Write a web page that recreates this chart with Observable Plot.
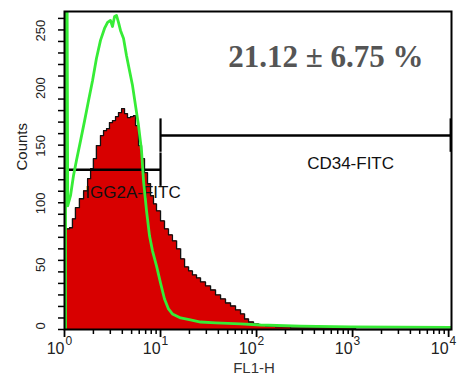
<!DOCTYPE html>
<html>
<head>
<meta charset="utf-8">
<script src="https://cdn.jsdelivr.net/npm/d3@7"></script>
<script src="https://cdn.jsdelivr.net/npm/@observablehq/plot@0.6"></script>
<style>
  html, body { margin: 0; padding: 0; background: #fff; }
</style>
</head>
<body>
<div id="chart"></div>
<script>
// CD34-FITC sample histogram (red fill), FL1-H channel vs counts
const redFL1 = [1.04, 1.05, 1.13, 1.21, 1.30, 1.43, 1.58, 1.74, 1.87, 2.00, 2.15, 2.37, 2.55, 2.74, 2.94, 3.16, 3.40, 3.65, 3.93, 4.22, 4.53, 4.87, 5.23, 5.49, 5.90, 6.34, 6.81, 7.32, 7.87, 8.45, 9.08, 10.0, 11.0, 12.1, 13.3, 14.7, 16.2, 17.8, 19.6, 21.5, 23.7, 26.1, 29.4, 33.2, 37.4, 42.2, 47.5, 53.6, 60.4, 68.1, 75.0, 82.5, 93.0, 105, 124, 158, 226, 464, 953, 1075, 10500];
const redCounts = [87, 87.4, 88.3, 96.1, 105.7, 113.5, 120.4, 130.9, 139.6, 148.3, 159.6, 168.3, 172.6, 174.3, 179.6, 181.3, 184.8, 188.3, 191.7, 187.4, 183.9, 184.8, 185.7, 177.0, 159.6, 148.3, 136.1, 126.5, 116.1, 109.1, 103.0, 94.3, 87.4, 82.2, 77.0, 70.0, 61.3, 54.3, 50.9, 47.4, 44.8, 41.3, 37.8, 34.3, 30.0, 26.5, 23.0, 20.4, 17.0, 13.5, 9.1, 6.5, 4.8, 3.9, 3.0, 2.2, 1.3, 1.3, 1.0, 0, 0];

// IgG2a-FITC isotype control histogram (green line)
const greenFL1 = [1.025, 1.025, 1.055, 1.08, 1.155, 1.24, 1.33, 1.47, 1.62, 1.78, 1.96, 2.15, 2.37, 2.61, 2.81, 3.01, 3.16, 3.32, 3.48, 3.65, 3.83, 4.12, 4.42, 4.75, 5.11, 5.49, 5.90, 6.34, 6.65, 7.15, 7.68, 8.25, 9.08, 10.0, 11.0, 12.1, 13.3, 16.2, 20.5, 26.1, 37.4, 68.1, 110, 287, 953, 10500];
const greenCounts = [0, 400, 400, 107.4, 116.1, 133.5, 146.5, 163.9, 181.3, 198.7, 216.1, 235.2, 250.9, 261.3, 266.5, 268.3, 263.0, 271.7, 272.6, 266.5, 259.6, 252.6, 237.8, 224.8, 211.7, 194.3, 177.0, 155.2, 129.1, 103.0, 81.3, 68.3, 55.2, 40.4, 26.5, 17.8, 13.5, 10.0, 8.3, 6.5, 5.7, 4.8, 3.9, 3.0, 2.2, 1.8];

// Gates
const gateNames = ["IGG2A-FITC", "CD34-FITC"];
const gateStart = [1.05, 10];
const gateEnd = [10, 10500];
const gateLevel = [138.7, 168.3];
const gateLabelFL1 = [5.17, 953];
const gateLabelCount = [118.7, 143.9];

const title = "21.12 \u00b1 6.75 %";

// Axis ticks
const yMajor = [0, 50, 100, 150, 200, 250];
const yMinor = d3.range(0, 276, 10);
const xMajor = [1, 10, 100, 1000, 10000];
const xExponents = ["0", "1", "2", "3", "4"];
const xMinor = [1, 10, 100, 1000].flatMap(k => d3.range(2, 10).map(m => m * k));

const red = redFL1.map((x, i) => ({x, y: redCounts[i]}));
const green = greenFL1.map((x, i) => ({x, y: greenCounts[i]}));
const gates = gateNames.map((name, i) => ({name, x1: gateStart[i], x2: gateEnd[i], y: gateLevel[i], lx: gateLabelFL1[i], ly: gateLabelCount[i]}));
const gateEnds = gates.flatMap(g => [{x: g.x1, y: g.y}, {x: g.x2, y: g.y}]);
const xLabels = xMajor.map((v, i) => ({v, e: xExponents[i]}));

const chart = Plot.plot({
  width: 463,
  height: 383,
  marginLeft: 64,
  marginRight: 12,
  marginTop: 11,
  marginBottom: 54,
  style: {fontFamily: "'Liberation Sans', Arial, sans-serif", background: "#fff", color: "#222"},
  x: {type: "log", domain: [1, Math.pow(10, 4.03)]},
  y: {domain: [0, 276]},
  marks: [
    Plot.areaY(red, {x: "x", y: "y", fill: "#d80000", curve: "step-after"}),
    Plot.lineY(red, {x: "x", y: "y", stroke: "#111", strokeWidth: 1.3, curve: "step-after"}),
    Plot.ruleY(gates, {x1: "x1", x2: "x2", y: "y", stroke: "#000", strokeWidth: 2.5}),
    Plot.ruleX(gateEnds, {x: "x", y1: d => d.y - 14.5, y2: d => d.y + 14.5, stroke: "#000", strokeWidth: 2.2}),
    Plot.text(gates, {x: "lx", y: "ly", text: "name", fontSize: 17, fill: "#111"}),
    Plot.lineY(green, {x: "x", y: "y", stroke: "#36ec36", strokeWidth: 2.8, clip: true}),
    Plot.frame({stroke: "#000", strokeWidth: 2}),
    Plot.axisY(yMinor, {tickSize: 6, tickFormat: () => "", label: null, stroke: "#000", strokeWidth: 1.5}),
    Plot.text(yMajor, {y: d => d, text: d => String(d), frameAnchor: "left", rotate: -90, dx: -24, fontSize: 13, fill: "#222"}),
    Plot.axisX(xMinor, {tickSize: 5, tickFormat: () => "", label: null, stroke: "#000", strokeWidth: 1.5}),
    Plot.axisX(xMajor, {tickSize: 8, tickFormat: () => "", label: null, stroke: "#000", strokeWidth: 1.8}),
    Plot.text(xLabels, {x: "v", text: () => "10", frameAnchor: "bottom", textAnchor: "end", dy: 24, fontSize: 16, fill: "#222"}),
    Plot.text(xLabels, {x: "v", text: "e", frameAnchor: "bottom", textAnchor: "start", dy: 15, dx: 1, fontSize: 12, fill: "#222"}),
    Plot.text(["FL1-H"], {frameAnchor: "bottom", dy: 43, dx: -4, fontSize: 15, fill: "#333"}),
    Plot.text(["Counts"], {frameAnchor: "left", rotate: -90, dx: -42, fontSize: 15, fill: "#222"}),
    Plot.text([title], {frameAnchor: "top-right", textAnchor: "end", dx: -28, dy: 33, fontSize: 31, fontWeight: "bold", fontFamily: "'Liberation Serif', 'Times New Roman', serif", fill: "#555"})
  ]
});
document.getElementById("chart").appendChild(chart);
</script>
</body>
</html>
